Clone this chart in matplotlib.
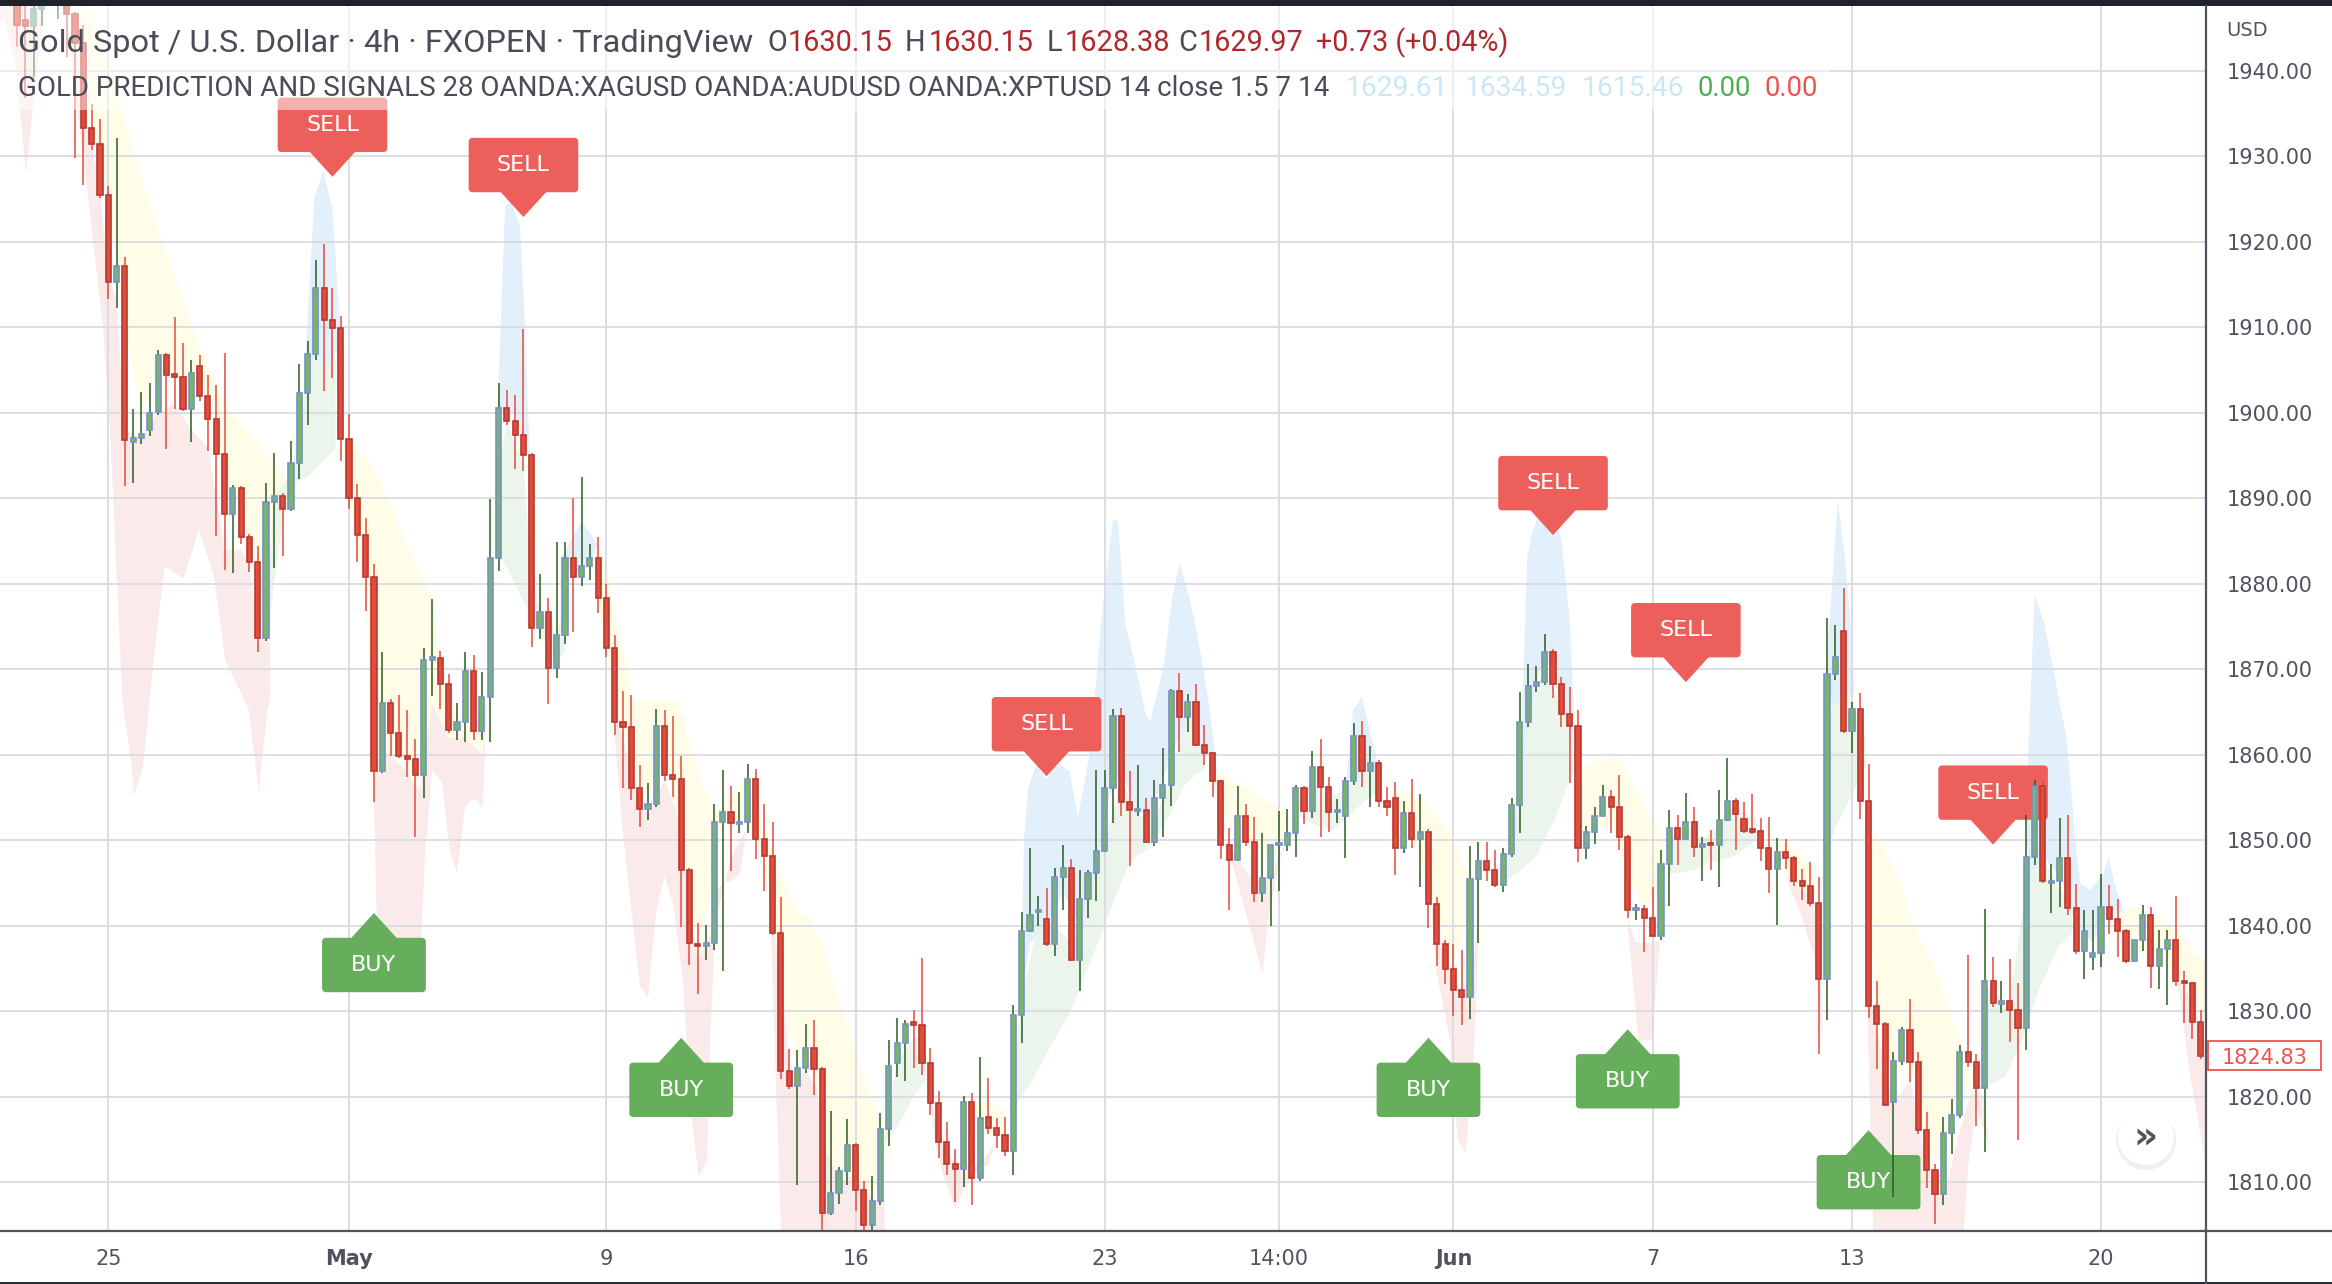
import matplotlib
matplotlib.use("Agg")
import matplotlib.pyplot as plt
import matplotlib.transforms as mtransforms
from matplotlib.patches import FancyBboxPatch, Polygon, Rectangle, Circle
import numpy as np

W, H = 2332, 1284

# ---- 4h candles (bar index 0 = first candle right of the top-left edge) ----
first_bar = -10
opens = [
    1952.0, 1950.0, 1949.0, 1946.0, 1945.2, 1947.2, 1948.6, 1948.0, 1948.5, 1946.7,
    1943.2, 1933.3, 1931.4, 1925.5, 1915.3, 1917.2, 1896.6, 1897.1, 1898.0, 1900.1,
    1906.8, 1904.5, 1904.2, 1900.5, 1905.5, 1902.0, 1899.3, 1895.2, 1888.2, 1891.2,
    1885.5, 1882.6, 1873.7, 1889.6, 1890.3, 1888.8, 1894.1, 1902.3, 1906.9, 1914.6,
    1910.8, 1909.9, 1896.9, 1890.0, 1885.7, 1880.8, 1858.1, 1866.1, 1862.5, 1859.9,
    1859.5, 1857.7, 1871.1, 1871.3, 1868.3, 1862.9, 1863.8, 1869.8, 1862.8, 1866.8,
    1883.0, 1900.6, 1899.0, 1897.4, 1895.1, 1874.8, 1876.7, 1870.1, 1874.0, 1883.0,
    1880.8, 1882.1, 1883.0, 1878.4, 1872.5, 1863.8, 1863.2, 1856.1, 1853.7, 1854.3,
    1863.4, 1857.7, 1857.2, 1846.5, 1837.9, 1837.6, 1838.0, 1852.2, 1853.3, 1851.9,
    1852.1, 1857.2, 1850.1, 1848.2, 1839.2, 1823.0, 1821.3, 1823.4, 1825.7, 1823.2,
    1806.4, 1808.8, 1811.3, 1814.4, 1809.1, 1805.0, 1807.8, 1816.2, 1824.0, 1826.3,
    1828.6, 1828.4, 1823.9, 1819.3, 1814.7, 1812.1, 1811.6, 1819.4, 1810.5, 1817.7,
    1816.3, 1815.5, 1813.7, 1829.6, 1839.4, 1841.6, 1840.8, 1837.9, 1845.7, 1846.8,
    1836.0, 1843.1, 1846.2, 1848.8, 1856.1, 1864.5, 1854.5, 1853.4, 1853.6, 1849.8,
    1855.0, 1856.5, 1867.5, 1864.4, 1866.2, 1861.1, 1860.2, 1856.9, 1849.5, 1847.7,
    1852.8, 1849.8, 1843.8, 1845.6, 1849.4, 1849.5, 1850.8, 1856.1, 1853.4, 1858.6,
    1856.2, 1853.3, 1852.8, 1856.9, 1862.2, 1858.1, 1859.0, 1854.6, 1855.0, 1849.1,
    1853.2, 1850.2, 1851.0, 1842.6, 1837.9, 1834.9, 1832.5, 1831.7, 1845.5, 1847.6,
    1846.5, 1844.8, 1848.4, 1854.1, 1863.8, 1868.1, 1868.5, 1872.0, 1868.3, 1864.8,
    1863.4, 1849.1, 1851.0, 1852.9, 1855.1, 1853.9, 1850.4, 1841.8, 1842.0, 1840.9,
    1838.8, 1847.2, 1851.4, 1850.1, 1852.1, 1849.2, 1849.6, 1849.4, 1852.4, 1854.6,
    1852.5, 1851.2, 1851.1, 1849.1, 1846.7, 1848.6, 1847.9, 1845.2, 1844.7, 1842.7,
    1833.8, 1869.5, 1874.5, 1862.8, 1865.4, 1854.6, 1830.6, 1828.5, 1819.4, 1824.2,
    1827.8, 1824.1, 1816.1, 1811.4, 1808.6, 1815.8, 1817.9, 1825.2, 1824.1, 1821.0,
    1833.6, 1830.9, 1831.2, 1830.1, 1828.1, 1848.1, 1856.4, 1845.0, 1845.3, 1847.9,
    1842.1, 1837.0, 1836.3, 1836.8, 1842.2, 1840.8, 1839.4, 1835.9, 1838.3, 1841.3,
    1835.3, 1837.3, 1838.4, 1833.5, 1833.3, 1828.7,
]
highs = [
    1955.0, 1951.0, 1950.0, 1947.8, 1947.7, 1950.0, 1951.0, 1949.5, 1949.0, 1946.9,
    1945.4, 1936.1, 1934.4, 1926.5, 1932.1, 1918.2, 1900.4, 1902.4, 1903.5, 1907.4,
    1907.0, 1911.2, 1908.2, 1906.2, 1906.8, 1904.4, 1903.3, 1907.0, 1891.6, 1891.4,
    1885.8, 1884.4, 1891.8, 1895.3, 1890.6, 1896.7, 1905.7, 1908.4, 1917.9, 1919.8,
    1914.6, 1911.3, 1899.9, 1891.7, 1887.7, 1882.3, 1872.0, 1866.5, 1867.0, 1865.2,
    1861.9, 1872.5, 1878.2, 1872.1, 1869.5, 1866.1, 1872.0, 1871.7, 1869.7, 1889.9,
    1903.5, 1902.7, 1902.1, 1909.8, 1895.3, 1881.1, 1878.3, 1884.9, 1884.9, 1890.0,
    1892.5, 1884.7, 1885.5, 1880.0, 1874.0, 1867.5, 1867.0, 1858.8, 1856.7, 1865.4,
    1865.3, 1864.6, 1859.9, 1846.8, 1840.3, 1840.1, 1854.3, 1858.2, 1856.4, 1855.6,
    1858.9, 1858.3, 1854.2, 1852.2, 1843.4, 1825.6, 1825.5, 1828.5, 1829.0, 1823.5,
    1818.4, 1811.8, 1817.4, 1814.6, 1810.2, 1810.8, 1818.1, 1826.7, 1829.2, 1829.0,
    1830.2, 1836.2, 1825.7, 1820.7, 1817.1, 1813.9, 1820.1, 1820.4, 1824.7, 1822.2,
    1817.5, 1817.7, 1830.8, 1841.6, 1849.1, 1843.5, 1844.4, 1846.8, 1849.5, 1847.8,
    1846.5, 1846.5, 1858.2, 1858.2, 1865.4, 1865.5, 1858.1, 1858.8, 1854.9, 1857.1,
    1860.8, 1867.7, 1869.6, 1867.1, 1868.3, 1863.5, 1860.3, 1857.1, 1851.4, 1856.4,
    1854.3, 1852.7, 1850.8, 1849.5, 1853.4, 1853.7, 1856.5, 1856.4, 1860.4, 1861.9,
    1857.4, 1854.8, 1857.4, 1863.7, 1863.9, 1861.0, 1859.4, 1856.2, 1856.8, 1854.6,
    1857.2, 1855.4, 1851.3, 1843.4, 1838.4, 1837.9, 1837.2, 1849.3, 1849.8, 1849.8,
    1848.9, 1849.1, 1855.0, 1867.4, 1870.6, 1870.4, 1874.1, 1872.4, 1869.1, 1867.9,
    1865.3, 1851.7, 1853.9, 1856.5, 1855.9, 1857.7, 1850.6, 1842.5, 1842.4, 1844.6,
    1848.9, 1853.5, 1853.0, 1855.5, 1853.9, 1850.4, 1851.2, 1855.9, 1859.6, 1855.0,
    1854.5, 1855.4, 1852.6, 1852.7, 1850.3, 1850.1, 1848.2, 1846.6, 1847.5, 1845.7,
    1876.0, 1875.2, 1879.5, 1866.2, 1867.2, 1858.9, 1833.5, 1828.8, 1825.3, 1828.2,
    1831.5, 1825.3, 1818.2, 1812.2, 1817.6, 1819.8, 1826.1, 1836.6, 1825.0, 1842.0,
    1836.3, 1833.5, 1836.1, 1833.3, 1853.0, 1857.1, 1856.9, 1847.2, 1852.6, 1853.0,
    1844.9, 1841.8, 1841.9, 1846.1, 1844.8, 1843.1, 1839.6, 1838.4, 1842.4, 1842.2,
    1839.5, 1839.5, 1843.5, 1834.7, 1833.4, 1830.1,
]
lows = [
    1949.0, 1948.2, 1942.8, 1936.8, 1939.3, 1945.2, 1947.8, 1946.1, 1941.6, 1929.8,
    1926.6, 1930.7, 1925.1, 1913.3, 1912.3, 1891.4, 1891.8, 1896.4, 1897.3, 1899.8,
    1895.8, 1900.5, 1900.2, 1896.6, 1901.4, 1895.5, 1885.6, 1881.6, 1881.3, 1884.7,
    1881.4, 1872.0, 1873.3, 1881.9, 1883.2, 1888.5, 1892.3, 1898.6, 1906.2, 1902.5,
    1904.1, 1894.4, 1888.8, 1882.6, 1876.8, 1854.5, 1857.9, 1859.9, 1859.6, 1857.4,
    1850.4, 1855.0, 1866.9, 1865.4, 1862.5, 1861.7, 1861.5, 1861.7, 1861.7, 1861.5,
    1881.5, 1898.6, 1893.4, 1893.2, 1872.6, 1873.5, 1866.0, 1869.0, 1873.0, 1874.4,
    1879.7, 1880.4, 1876.6, 1871.5, 1862.3, 1856.1, 1854.7, 1851.6, 1852.4, 1853.9,
    1856.9, 1855.1, 1839.9, 1835.4, 1832.0, 1836.0, 1837.2, 1834.7, 1846.4, 1850.9,
    1850.9, 1847.8, 1844.1, 1838.9, 1822.1, 1820.9, 1809.7, 1822.8, 1820.2, 1803.5,
    1806.2, 1807.5, 1809.7, 1806.6, 1803.0, 1803.5, 1807.3, 1814.3, 1822.3, 1821.9,
    1823.4, 1822.5, 1817.9, 1812.9, 1810.9, 1807.7, 1809.5, 1807.4, 1810.2, 1815.6,
    1814.0, 1813.1, 1810.9, 1826.3, 1839.3, 1840.0, 1837.6, 1836.5, 1841.8, 1835.9,
    1832.4, 1840.9, 1842.9, 1848.6, 1852.0, 1852.8, 1847.0, 1852.8, 1849.7, 1849.3,
    1850.4, 1854.0, 1860.3, 1862.7, 1861.0, 1858.8, 1855.1, 1847.8, 1841.8, 1847.6,
    1849.3, 1842.8, 1842.8, 1840.0, 1844.1, 1848.7, 1848.0, 1851.9, 1852.6, 1850.4,
    1851.0, 1852.0, 1847.9, 1856.5, 1856.2, 1853.9, 1853.9, 1852.8, 1845.9, 1848.5,
    1849.1, 1844.6, 1839.8, 1835.3, 1833.2, 1829.4, 1828.4, 1829.1, 1838.0, 1845.3,
    1844.6, 1844.0, 1848.0, 1850.9, 1863.2, 1867.4, 1868.2, 1866.7, 1863.2, 1856.7,
    1847.5, 1847.8, 1849.6, 1852.8, 1850.9, 1848.9, 1840.9, 1840.7, 1836.9, 1838.7,
    1838.4, 1842.3, 1847.1, 1850.0, 1848.0, 1845.3, 1846.5, 1844.5, 1852.3, 1848.9,
    1850.9, 1850.7, 1847.6, 1843.8, 1840.1, 1846.6, 1844.7, 1843.0, 1842.3, 1825.0,
    1829.0, 1868.7, 1862.5, 1860.2, 1852.5, 1829.2, 1823.3, 1819.0, 1808.3, 1823.7,
    1821.7, 1815.6, 1809.3, 1805.1, 1807.3, 1813.3, 1817.5, 1823.5, 1816.6, 1813.5,
    1830.5, 1829.8, 1826.4, 1814.9, 1825.5, 1847.1, 1845.0, 1841.5, 1842.2, 1841.3,
    1836.7, 1833.8, 1834.8, 1835.2, 1839.0, 1836.4, 1835.6, 1835.8, 1837.0, 1832.7,
    1832.6, 1830.8, 1833.0, 1828.6, 1826.8, 1824.4,
]
closes = [
    1950.0, 1949.0, 1945.4, 1945.2, 1947.2, 1948.6, 1948.0, 1948.5, 1946.7, 1943.2,
    1933.3, 1931.4, 1925.5, 1915.3, 1917.2, 1896.8, 1897.1, 1897.5, 1900.0, 1906.8,
    1904.4, 1904.2, 1900.5, 1904.7, 1902.0, 1899.3, 1895.2, 1888.2, 1891.2, 1885.5,
    1882.6, 1873.7, 1889.6, 1890.3, 1888.8, 1894.1, 1902.3, 1906.9, 1914.6, 1910.8,
    1909.9, 1896.9, 1890.0, 1885.7, 1880.8, 1858.1, 1866.1, 1862.5, 1859.9, 1859.5,
    1857.7, 1871.1, 1871.3, 1868.3, 1862.9, 1863.8, 1869.8, 1862.8, 1866.8, 1883.0,
    1900.6, 1899.0, 1897.4, 1895.1, 1874.8, 1876.7, 1870.1, 1874.0, 1883.0, 1880.8,
    1882.1, 1883.0, 1878.4, 1872.5, 1863.8, 1863.2, 1856.1, 1853.7, 1854.3, 1863.4,
    1857.7, 1857.2, 1846.5, 1838.0, 1837.6, 1838.0, 1852.2, 1853.3, 1852.0, 1852.1,
    1857.2, 1850.1, 1848.2, 1839.2, 1823.0, 1821.3, 1823.4, 1825.7, 1823.2, 1806.4,
    1808.8, 1811.3, 1814.4, 1809.1, 1805.0, 1807.8, 1816.2, 1823.6, 1826.3, 1828.5,
    1828.4, 1823.9, 1819.3, 1814.7, 1812.1, 1811.6, 1819.4, 1810.5, 1817.5, 1816.3,
    1815.5, 1813.7, 1829.6, 1839.4, 1841.3, 1841.8, 1837.9, 1845.7, 1846.8, 1836.0,
    1843.1, 1846.2, 1848.8, 1856.1, 1864.5, 1854.5, 1853.5, 1853.6, 1849.8, 1855.0,
    1856.5, 1867.5, 1864.4, 1866.2, 1861.1, 1860.2, 1856.9, 1849.5, 1847.7, 1852.8,
    1849.8, 1843.8, 1845.6, 1849.4, 1849.6, 1850.8, 1856.1, 1853.4, 1858.6, 1856.2,
    1853.3, 1853.5, 1856.9, 1862.2, 1858.1, 1859.0, 1854.6, 1853.9, 1849.1, 1853.2,
    1850.2, 1851.0, 1842.6, 1837.9, 1834.9, 1832.5, 1831.7, 1845.5, 1847.6, 1846.5,
    1844.8, 1848.4, 1854.1, 1863.8, 1868.1, 1868.5, 1872.0, 1868.3, 1864.8, 1863.4,
    1849.1, 1851.0, 1852.9, 1855.1, 1853.9, 1850.4, 1841.8, 1842.0, 1840.9, 1838.8,
    1847.2, 1851.4, 1850.1, 1852.1, 1849.2, 1849.6, 1849.4, 1852.4, 1854.6, 1853.1,
    1851.1, 1851.0, 1849.1, 1846.7, 1848.6, 1847.9, 1845.2, 1844.7, 1842.7, 1833.8,
    1869.5, 1871.4, 1862.8, 1865.4, 1854.6, 1830.6, 1828.5, 1819.1, 1824.2, 1827.8,
    1824.1, 1816.1, 1811.4, 1808.6, 1815.8, 1817.9, 1825.2, 1824.1, 1821.0, 1833.6,
    1831.0, 1831.2, 1830.1, 1828.1, 1848.1, 1856.4, 1845.2, 1845.3, 1847.9, 1842.1,
    1837.0, 1839.4, 1836.8, 1842.2, 1840.8, 1839.4, 1835.9, 1838.3, 1841.3, 1835.3,
    1837.3, 1838.4, 1833.5, 1833.3, 1828.7, 1824.83,
]

# ---- axis ticks ----
tick_bars = [3, 32, 63, 93, 123, 144, 165, 189, 213, 243]
tick_labels = ["25", "May", "9", "16", "23", "14:00", "Jun", "7", "13", "20"]
price_ticks = list(range(1810, 1941, 10))

# ---- signal labels (bar, price of arrow tip) ----
sell_bars = [30, 53, 116, 177, 193, 230]
sell_tips = [1927.6, 1922.9, 1857.5, 1885.7, 1868.5, 1849.5]
buy_bars = [35, 72, 162, 186, 215]
buy_tips = [1841.5, 1826.9, 1826.9, 1827.9, 1816.1]

# ---- legend values ----
ohlc_last = ["1630.15", "1630.15", "1628.38", "1629.97"]
change_text = "+0.73 (+0.04%)"
indicator_values = ["1629.61", "1634.59", "1615.46"]
signal_values = ["0.00", "0.00"]

# ---- indicator shading, outlines traced as (bar, price) ----
pink_zones = [
    ([-10.1, -4.6, -5.8, -6.9, -8.1, -9.4, -10.1],
     [1948, 1948, 1938, 1928, 1940, 1946, 1946]),
    ([-1.4, 0, 1, 2, 3, 4, 5, 7, 9, 11, 13, 15, 16, 17, 19, 20, 21, 22.5,
      22.45, 22.2, 21.1, 19.9, 17.1, 15.7, 13.9, 12.1, 9.8, 9.3, 8.4, 7.2, 6.1, 5.85, 4.7, 3.3, 2.4, 0, -1.4],
     [1946.5, 1936, 1931, 1926, 1916, 1913, 1898, 1897, 1900, 1901, 1898, 1896, 1890, 1884, 1884, 1882, 1873, 1876,
      1866, 1865.4, 1855.7, 1865.4, 1871, 1881, 1886.4, 1880.6, 1882, 1878, 1870.5, 1858.7, 1855.2, 1858.7, 1866.4, 1896.3, 1909.7, 1930, 1940]),
    ([33.5, 34.5, 35.2, 37, 39, 40.5, 42, 44, 46, 48.6,
      48.4, 48.1, 47.1, 46.0, 45.0, 44.1, 43.2, 42.0, 41.1, 40.7, 35.4, 34.9, 34.7, 34],
     [1888, 1878, 1862, 1860, 1858, 1856, 1866, 1863, 1862, 1866,
      1861.8, 1853.9, 1854.9, 1854.1, 1846.2, 1849.0, 1856.7, 1858.2, 1847.5, 1838.6, 1838.6, 1857.7, 1870, 1880]),
    ([63.6, 65, 66, 68, 70, 72, 73, 74, 76, 78, 79.9,
      79.1, 78.3, 77.1, 76.3, 75.5, 75.1, 74.1, 73.1, 72.2, 71, 70, 69, 68, 67, 65],
     [1866.4, 1862, 1858, 1853, 1857, 1852, 1842, 1836, 1840, 1848, 1851.4,
      1846.2, 1845.4, 1845, 1844.2, 1826.8, 1812.5, 1810.6, 1818.9, 1833.9, 1842.6, 1845.8, 1841.8, 1831.6, 1833.1, 1850.6]),
    ([82.5, 84, 85, 87, 89, 91, 93, 95, 96.5, 96.5, 84.1, 83.5, 82.7],
     [1849, 1838, 1823, 1823, 1820, 1810, 1811, 1808, 1808, 1803, 1803, 1818.9, 1842.6]),
    ([102, 104, 106, 108, 110, 109, 107, 105, 103.5, 102.5],
     [1820, 1813, 1812, 1812, 1815, 1812, 1811, 1806.9, 1811, 1815]),
    ([137.7, 139, 141, 143, 145.3, 144.1, 142.7, 142.0, 140.7],
     [1849.6, 1848, 1845, 1846, 1850.8, 1847.7, 1840.7, 1834.4, 1839.1]),
    ([162.2, 163, 164, 165, 166, 167, 168.2, 167.5, 166.5, 165.5, 164.6, 163],
     [1844.2, 1840, 1836, 1834, 1832, 1833, 1842.2, 1826, 1813.5, 1815, 1826.6, 1834.4]),
    ([185.9, 187, 188.5, 189.9, 188.9, 187.3],
     [1841.1, 1838, 1838, 1838.3, 1826.6, 1826.6]),
    ([205, 207, 209, 209.5, 208.5, 207, 205.5],
     [1846.5, 1844.5, 1842, 1826, 1836, 1841, 1844.5]),
    ([214.8, 216, 218, 220, 222, 224, 226, 227.5, 229, 229.5, 228, 227, 226.4, 215.6],
     [1832.7, 1828, 1819, 1822, 1812, 1808, 1816, 1821, 1820, 1814, 1819, 1812, 1803, 1803]),
    ([252.1, 254, 255.7, 255.7, 255.1, 253.7],
     [1834.4, 1831, 1826, 1812, 1814.9, 1822.7]),
]
yellow_zones = [
    ([0.8, 3.2, 6.0, 9.2, 13.9, 17.6, 20.4, 22.2, 25.0,
      24, 22.5, 21, 19, 17, 15, 13, 11, 9, 7, 5, 4, 3, 2, 1, 0, -0.5],
     [1947.6, 1940.5, 1930.7, 1921, 1907.9, 1899.9, 1897.2, 1895, 1891.8,
      1889, 1885, 1882, 1888, 1893, 1902, 1904, 1905, 1905, 1900, 1910, 1918, 1924, 1930, 1934, 1942, 1947.6]),
    ([31.0, 32.8, 34.2, 36.0, 38.8, 42.0, 42.9, 44.3, 46.2, 48.5,
      48, 46, 44, 42, 40, 38, 36, 35, 34, 33, 32, 31],
     [1896.3, 1895.6, 1894.9, 1891.4, 1885.1, 1878.4, 1871.5, 1866.4, 1862.8, 1862,
      1860, 1862, 1862, 1866, 1856, 1860, 1860, 1858, 1878, 1884, 1890, 1896]),
    ([61, 63, 65, 66.2, 71.5, 74.7, 76.3, 78, 80, 81.5, 83.5, 85.9, 87.5, 89.1, 93.1, 95.9, 97,
      97, 95, 93, 91, 89, 88, 86, 84, 83, 81, 79, 77, 76, 74, 72, 70, 68, 66, 64, 62],
     [1886, 1882, 1872, 1866.4, 1866.4, 1856.1, 1853.3, 1855, 1858, 1853, 1847, 1841.9, 1840.7, 1837.5, 1824.8, 1817.3, 1816,
      1813, 1808, 1811, 1810, 1815, 1824, 1824, 1832, 1842, 1851, 1852, 1852, 1845, 1838, 1850, 1860, 1855, 1859, 1866, 1878]),
    ([105.8, 107.8, 109.4, 111, 111, 109, 107, 105.8],
     [1818.8, 1819.4, 1819.2, 1818.5, 1815, 1816, 1815, 1816]),
    ([135.7, 139.3, 141.7, 144.1, 145.3, 145.3, 143, 141, 139, 137, 136],
     [1858.6, 1856.5, 1855.1, 1853.9, 1852.4, 1850, 1848, 1849, 1851, 1853, 1857]),
    ([157.4, 159.4, 161.8, 163.8, 164.6, 166.6, 166.6, 165, 163, 161.5, 160, 158],
     [1855.5, 1855.7, 1854.3, 1851.6, 1850.8, 1846.1, 1840, 1836, 1840, 1846, 1851, 1852]),
    ([179.9, 181.5, 183.9, 185.1, 186.7, 188.7, 190.3, 190.3, 188, 186, 184, 182, 180],
     [1857.8, 1859, 1859.8, 1859.4, 1856.3, 1852.8, 1850.4, 1845, 1842, 1846, 1852, 1851, 1852]),
    ([203.1, 205.1, 207.1, 208.3, 208.3, 206, 204],
     [1850.5, 1849.8, 1848.2, 1846.8, 1843, 1845, 1847]),
    ([215.2, 218.4, 220.8, 223.2, 225.6, 228, 228, 226, 224, 222, 220, 218, 216, 215.2],
     [1851.8, 1846.2, 1839.2, 1834.7, 1827.7, 1821.7, 1820, 1822, 1812, 1814, 1824, 1822, 1830, 1840]),
    ([245.6, 246.8, 248.8, 252, 254.4, 255.7, 255.7, 253, 250, 247, 245.6],
     [1841.4, 1842.4, 1841.4, 1839.9, 1836.8, 1836, 1828, 1833, 1836, 1837, 1839]),
]
green_zones = [
    ([22.2, 23, 25, 26, 27, 28, 29, 30.4, 30.4, 29, 26.8, 25, 23.5, 22.2],
     [1880, 1890, 1893, 1898, 1904, 1910, 1912, 1906, 1895.8, 1894.5, 1892.3, 1891.8, 1884, 1874]),
    ([49.5, 51, 53, 54, 55, 57, 58, 58, 57, 55, 53, 51, 49.5],
     [1890, 1899, 1894, 1880, 1877, 1874, 1878, 1872, 1871, 1874, 1878, 1882, 1884]),
    ([96, 98, 100, 101.5, 101.5, 100, 98, 96],
     [1812, 1824, 1827, 1826, 1822, 1820, 1816.5, 1814]),
    ([111.6, 113, 115, 117, 119, 121, 123, 125, 127, 129, 131, 133, 135.1,
      135.1, 134.1, 132.5, 130.9, 128.5, 126, 123.6, 121.2, 118.8, 116.4, 114],
     [1818.3, 1832, 1840, 1840, 1838, 1843, 1850, 1857, 1853, 1852, 1858, 1865, 1860,
      1858.2, 1857.8, 1856.3, 1853.1, 1849.2, 1847.4, 1841.7, 1835.5, 1829.8, 1825.8, 1821.4]),
    ([146.4, 148, 150, 152, 154, 156.4, 156.4, 154.4, 152.4, 150.4, 148, 146.4],
     [1854, 1857, 1855, 1856, 1860, 1858, 1855.9, 1854.7, 1852.8, 1851.2, 1852, 1852.8]),
    ([170.2, 172, 173, 174, 176, 178, 179.8, 179.8, 179, 177, 175, 172.6, 170.2],
     [1846, 1850, 1858, 1866, 1870, 1866, 1862, 1858.6, 1857, 1852, 1848.1, 1846.1, 1844.6]),
    ([191, 193, 195, 197, 199, 201.6, 201.6, 198.5, 196, 194, 191],
     [1850, 1852, 1850, 1852, 1854, 1852, 1850, 1848, 1847.5, 1846.5, 1846]),
    ([209.5, 210, 211, 213, 214.7, 214.7, 212.7, 211.1, 209.5],
     [1848, 1860, 1870, 1866, 1862, 1858.8, 1854.7, 1851.7, 1847.8]),
    ([229.1, 230, 232, 234, 235, 237, 239.5, 239.5, 237.9, 235.5, 233.5, 231.5, 229.1],
     [1833, 1832, 1831, 1845, 1850, 1846, 1842, 1839.1, 1837.6, 1832.5, 1826.6, 1822.4, 1821.2]),
]
blue_zones = [
    ([26.8, 27.8, 28.9, 30.0, 30.4, 31.0, 30, 28],
     [1907, 1925.2, 1928.3, 1923.8, 1917.8, 1908.8, 1906, 1906]),
    ([49.9, 50.8, 51.5, 52.6, 53.1, 53.8, 52, 50.5],
     [1900.8, 1924.3, 1924.7, 1921.8, 1912.0, 1894.1, 1900, 1900]),
    ([57.5, 60.0, 61.9, 61, 59],
     [1882.9, 1887.3, 1884.7, 1882, 1881]),
    ([113.0, 113.3, 113.8, 114.8, 116, 117.2, 118.8, 119.8, 121.2, 122.4, 122.9, 124, 124.6, 125.5, 126.0,
      126.9, 127.9, 128.5, 130.1, 131.1, 132, 133.3, 134.5, 135.5, 136.3,
      135, 133, 131, 129, 127, 125, 123.5, 122, 120, 118, 116, 114, 113],
     [1838.6, 1850.5, 1856.2, 1858.9, 1857.1, 1859.3, 1858.0, 1852.7, 1860.2, 1873.4, 1878.7, 1887.4, 1887.4, 1875.2, 1873.4,
      1869.5, 1864.8, 1864, 1870.3, 1878.1, 1882.5, 1878.1, 1872.3, 1866.4, 1860.2,
      1860, 1864, 1860, 1854, 1853, 1858, 1855, 1846, 1840, 1844, 1840, 1838, 1832]),
    ([152.1, 152.9, 154, 155.2, 156.2, 155, 153],
     [1856.7, 1865.2, 1866.8, 1861.7, 1857.8, 1858, 1857]),
    ([172.9, 173.4, 173.9, 174.4, 176.2, 177.6, 178, 179.0, 179.4, 179.8, 178, 176, 174],
     [1854.3, 1868.7, 1883.2, 1885.7, 1890.9, 1886.5, 1885.1, 1876.1, 1867.6, 1860.2, 1866, 1872, 1864]),
    ([209.9, 210.8, 211.3, 212.2, 212.8, 213.3, 212, 210.5],
     [1869.8, 1882.8, 1889.7, 1882.8, 1875.8, 1867.3, 1866, 1866]),
    ([234.0, 234.3, 235, 236.2, 238.9, 239.9, 240.5, 241.7, 243.3, 243.9, 244.5, 245.7,
      244, 242, 240, 238, 236, 234.5],
     [1850, 1861.7, 1878.7, 1875.2, 1861.7, 1850, 1845, 1844.2, 1846.1, 1848.1, 1845.4, 1841.5,
      1842, 1838, 1840, 1846, 1848, 1846]),
]

# ---- colours ----
UP_FILL, UP_EDGE, UP_WICK = "#78b46c", "#7592c6", "#2c5c20"
DN_FILL, DN_EDGE, DN_WICK = "#e24c3d", "#b73a30", "#e64a3b"
SELL_C, BUY_C = "#ec5f5a", "#66ad5c"
TXT = "#50535e"

fig = plt.figure(figsize=(W / 100, H / 100), dpi=100, facecolor="white")
ax = fig.add_axes([0, 53 / H, 2206 / W, 1225 / H])
ax.set_facecolor("white")
ax.set_xlim(-10.04, 255.64)
ax.set_ylim(1804.31, 1947.58)

# shading
for zones, col in ((pink_zones, "#fbeaea"), (yellow_zones, "#fffde8"),
                   (green_zones, "#ecf5eb"), (blue_zones, "#e2f0fb")):
    for xs, ys in zones:
        ax.fill(xs, ys, color=col, lw=0, zorder=0.2)

# grid
ax.set_axisbelow(True)
ax.set_xticks(tick_bars)
ax.set_xticklabels(tick_labels)
ax.set_yticks(price_ticks)
ax.set_yticklabels([f"{p}.00" for p in price_ticks])
ax.grid(True, color="#d9dbe1", lw=1.3)
ax.yaxis.tick_right()
ax.tick_params(axis="both", length=0, colors=TXT, labelsize=15)
ax.tick_params(axis="y", pad=15)
ax.tick_params(axis="x", pad=13)
for lab in ax.get_xticklabels():
    if lab.get_text() in ("May", "Jun"):
        lab.set_fontweight("bold")
for s in ("top", "left", "right", "bottom"):
    ax.spines[s].set_visible(False)

# candles
bars = np.arange(first_bar, first_bar + len(closes))
o = np.array(opens)
h = np.array(highs)
lo = np.array(lows)
c = np.array(closes)
up = c >= o
bottom = np.minimum(o, c)
height = np.maximum(np.abs(c - o), 0.3)
ax.vlines(bars[up], lo[up], h[up], color=UP_WICK, lw=1.1, zorder=2)
ax.vlines(bars[~up], lo[~up], h[~up], color=DN_WICK, lw=1.1, zorder=2)
ax.bar(bars[up], height[up], bottom=bottom[up], width=0.62, color=UP_FILL,
       edgecolor=UP_EDGE, linewidth=1.2, zorder=3)
ax.bar(bars[~up], height[~up], bottom=bottom[~up], width=0.62, color=DN_FILL,
       edgecolor=DN_EDGE, linewidth=1.2, zorder=3)

# signal labels
aw, ah, bh = 3.0, 2.9, 6.36


def signal(k, tip, text, col, half_w, down):
    if down:
        tri = [(k - aw, tip + ah + 0.3), (k + aw, tip + ah + 0.3), (k, tip)]
        y0 = tip + ah
    else:
        tri = [(k - aw, tip - ah - 0.3), (k + aw, tip - ah - 0.3), (k, tip)]
        y0 = tip - ah - bh
    ax.add_patch(Polygon(tri, closed=True, color=col, lw=0, zorder=1.5))
    ax.add_patch(FancyBboxPatch((k - half_w, y0), 2 * half_w, bh,
                                boxstyle="round,pad=0,rounding_size=0.5",
                                mutation_aspect=0.97, color=col, lw=0, zorder=1.5))
    ax.text(k, y0 + bh / 2, text, color="white", ha="center", va="center",
            fontsize=16, zorder=1.6)


for k, p in zip(sell_bars, sell_tips):
    signal(k, p, "SELL", SELL_C, 6.6, True)
for k, p in zip(buy_bars, buy_tips):
    signal(k, p, "BUY", BUY_C, 6.25, False)

# legend backdrop (fades what is under the legend)
ax.add_patch(Rectangle((0, 1 - 104 / 1225), 1830 / 2206, 104 / 1225,
                       transform=ax.transAxes, color="white", alpha=0.5,
                       lw=0, zorder=5))

# frame lines, top bar
fig.add_artist(Rectangle((0, 1 - 6 / H), 1, 6 / H, transform=fig.transFigure,
                         color="#1f222b", lw=0))
fig.add_artist(Rectangle((0, 0), 1, 2 / H, transform=fig.transFigure,
                         color="#2a2d36", lw=0))
fig.add_artist(plt.Line2D([2206 / W, 2206 / W], [0, 1 - 6 / H],
                          transform=fig.transFigure, color="#50535e", lw=1.6))
fig.add_artist(plt.Line2D([0, 1], [53 / H, 53 / H],
                          transform=fig.transFigure, color="#50535e", lw=1.6))

# last price tag
blend = mtransforms.blended_transform_factory(ax.transAxes, ax.transData)
ax.add_patch(Rectangle((2208 / 2206, c[-1] - 1.72), 113 / 2206, 3.44,
                       transform=blend, fc="white", ec="#ef5350", lw=1.3,
                       clip_on=False, zorder=6))
ax.text((2208 + 2321) / 2 / 2206, c[-1], f"{c[-1]:.2f}", transform=blend,
        color="#ef5350", fontsize=15, ha="center", va="center_baseline",
        clip_on=False, zorder=7)

fig.text(2226 / W, 1 - 31 / H, "USD", color=TXT, fontsize=14, ha="left", va="center")

# scroll button
ident = mtransforms.IdentityTransform()
fig.add_artist(Circle((2146, H - 1140), 30, transform=ident, color="#000000",
                      alpha=0.06, lw=0))
fig.add_artist(Circle((2146, H - 1137), 28, transform=ident, color="white", lw=0))
fig.text(2146 / W, 1 - 1138 / H, "»", color=TXT, fontsize=27, fontweight="bold",
         ha="center", va="center")

# legend text
renderer = fig.canvas.get_renderer()


def put(x, y, s, color, size, width=None, family="Roboto"):
    t = fig.text(x / W, 1 - y / H, s, color=color, fontsize=size, ha="left",
                 va="center", family=family)
    if width:
        bb = t.get_window_extent(renderer=renderer)
        t.set_fontsize(size * width / bb.width)
    return t


DARK = "#4a4d57"
RED = "#b0282c"
put(18, 43, "Gold Spot / U.S. Dollar · 4h · FXOPEN · TradingView", DARK, 20, 734)
letter_x = [767, 905, 1047, 1178]
value_x = [788, 929, 1065, 1199]
size1 = None
for lx, vx, letter, val in zip(letter_x, value_x, "OHLC", ohlc_last):
    tv = put(vx, 43, val, RED, 20, 105)
    size1 = tv.get_fontsize()
    put(lx, 43, letter, DARK, size1)
put(1316, 43, change_text, RED, 20, 192)

t2 = put(18, 88, "GOLD PREDICTION AND SIGNALS 28 OANDA:XAGUSD OANDA:AUDUSD OANDA:XPTUSD 14 close 1.5 7 14",
         DARK, 17, 1310)
for x, s in zip((1346, 1465, 1582), indicator_values):
    put(x, 88, s, "#c9e8f7", 17, 102)
for x, s, col in zip((1697, 1765), signal_values, ("#4caf50", "#ef5350")):
    put(x, 88, s, col, 17, 54)

fig.savefig("out.png", dpi=100, facecolor="white")
